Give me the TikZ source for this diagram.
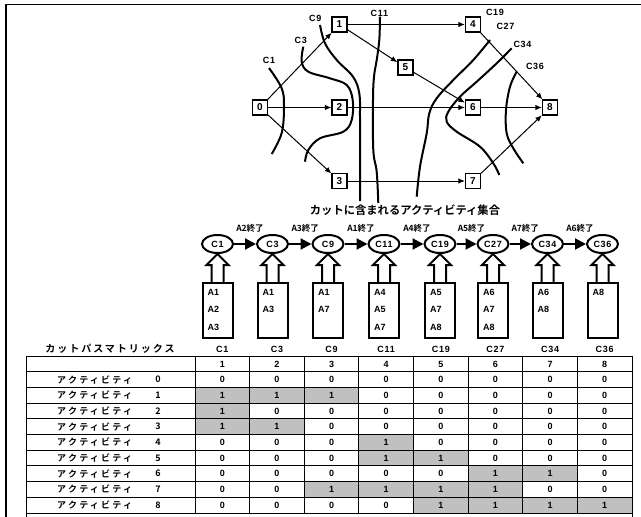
\documentclass[tikz,border=0pt]{standalone}
\usepackage{fontspec}
\newfontfamily\jpb{Noto Sans CJK JP Bold}
\newfontfamily\jpsp{Noto Sans CJK JP Bold}[LetterSpace=25]
\newfontfamily\jpsq{Noto Sans CJK JP Bold}[LetterSpace=20]
\newfontfamily\lat{Liberation Sans}
\newfontfamily\latsp{Liberation Sans}[LetterSpace=8]
\usetikzlibrary{arrows.meta,calc,shapes.geometric}
\definecolor{cellgray}{RGB}{192,192,192}
\begin{document}
\begin{tikzpicture}[x=1pt,y=-1pt,
 gnode/.style={draw,line width=1.3pt,minimum size=15pt,inner sep=0pt,font=\lat\bfseries\fontsize{10}{10}\selectfont},
 gedge/.style={line width=1pt,-{Latex[length=6.5pt,width=5.5pt]}},
 cut/.style={line width=2pt},
 cutlab/.style={inner sep=0pt,font=\latsp\bfseries\fontsize{9}{9}\selectfont},
 cnode/.style={draw,ellipse,line width=2pt,minimum width=31pt,minimum height=18pt,inner sep=0pt,font=\latsp\bfseries\fontsize{9}{9}\selectfont},
 chain/.style={line width=2pt,-{Triangle[length=11pt,width=11pt]}},
 chlab/.style={inner sep=0pt,font=\jpb\fontsize{8.5}{8.5}\selectfont},
 abox/.style={draw,line width=2pt,minimum width=30pt,minimum height=55pt,inner sep=0pt},
 boxtxt/.style={anchor=west,inner sep=0pt,font=\lat\bfseries\fontsize{9}{9}\selectfont},
 blockarr/.style={line width=2pt},
 tline/.style={line width=1pt},
 cell/.style={inner sep=0pt,font=\lat\bfseries\fontsize{9}{9}\selectfont},
 rowlab/.style={inner sep=0pt,font=\jpsp\fontsize{9}{9}\selectfont},
]
\useasboundingbox (0,0) rectangle (641,517);
% frame
\draw[line width=1.2pt] (6,517) -- (6,4.5) -- (641,4.5);

% ---- network ----
\node[gnode] (n0) at (260,107.5) {0};
\node[gnode] (n1) at (339.5,24.5) {1};
\node[gnode] (n2) at (339.5,107.5) {2};
\node[gnode] (n3) at (339.5,181) {3};
\node[gnode] (n4) at (473,24.5) {4};
\node[gnode] (n5) at (405.5,67.5) {5};
\node[gnode] (n6) at (473,107.5) {6};
\node[gnode] (n7) at (473,181) {7};
\node[gnode] (n8) at (550,107.5) {8};
\draw[gedge] (n0) -- (n1);
\draw[gedge] (n0) -- (n2);
\draw[gedge] (n0) -- (n3);
\draw[gedge] (n1) -- (n4);
\draw[gedge] (n1) -- (n5);
\draw[gedge] (n2) -- (n6);
\draw[gedge] (n3) -- (n7);
\draw[gedge] (n5) -- (n6);
\draw[gedge] (n4) -- (n8);
\draw[gedge] (n6) -- (n8);
\draw[gedge] (n7) -- (n8);

% cuts
\draw[cut] plot[smooth,tension=0.6] coordinates {(269,68) (281.7,88.3) (284,106.7) (281.7,133) (271.7,154)};
\draw[cut] plot[smooth,tension=0.6] coordinates {(303.3,46.7) (301.7,61.7) (308.3,71.7) (330,78.3) (346.7,85) (352.7,100) (351.7,120) (343.3,131.7) (320,138.3) (308.3,150) (305,161.7)};
\draw[cut] plot[smooth,tension=0.6] coordinates {(320,25) (325,43.3) (336.7,60) (353,76.7) (359.3,93.3) (360,116.7) (360,160) (360,201)};
\draw[cut] plot[smooth,tension=0.6] coordinates {(380,16.7) (379.3,40) (376.7,60) (374,76.7) (373,100) (373.3,150) (376.7,171.7) (378.3,203)};
\draw[cut] plot[smooth,tension=0.6] coordinates {(490,40) (473.3,60) (453.3,80) (436.7,98.3) (429.3,113.3) (426.7,133.3) (420,166.7) (416.7,196.7)};
\draw[cut] plot[smooth,tension=0.6] coordinates {(511.7,48.3) (496.7,63.3) (476.7,81.7) (460,96.7) (448.3,111.7) (446.7,121.7) (456.7,131.7) (480,146.7) (493.3,163.3) (499.3,175)};
\draw[cut] plot[smooth,tension=0.6] coordinates {(516.7,71.7) (510,86.7) (506,110) (506.7,133.3) (513.3,148.3) (523.3,163.3)};

\node[cutlab] (lc1) at (269,60) {C1};
\node[cutlab] (lc3) at (300.7,40) {C3};
\node[cutlab] (lc9) at (315.3,18.3) {C9};
\node[cutlab] (lc11) at (379.3,13.3) {C11};
\node[cutlab] (lc19) at (495,12.3) {C19};
\node[cutlab] (lc27) at (505.5,26.7) {C27};
\node[cutlab] (lc34) at (522.5,44.3) {C34};
\node[cutlab] (lc36) at (535,66.7) {C36};

% ---- chain ----
\node[inner sep=0pt,font=\jpb\fontsize{11.3}{11.3}\selectfont] (title) at (405,210) {カットに含まれるアクティビティ集合};

\foreach \i/\nm/\cx/\items in {1/C1/217.5/{A1,A2,A3},2/C3/272.5/{A1,A3},3/C9/328/{A1,A7},4/C11/384/{A4,A5,A7},5/C19/440/{A5,A7,A8},6/C27/493/{A6,A7,A8},7/C34/547.5/{A6,A8},8/C36/602.5/{A8}}{
  \node[cnode] (e\i) at (\cx,244) {\nm};
  \node[abox] (b\i) at (\cx,310.5) {};
  \foreach \t [count=\j] in \items {
    \node[boxtxt] (bt\i-\j) at ({\cx-10},{292+(\j-1)*17.5}) {\t};
  }
  \draw[blockarr] ($(b\i.north)+(-6,0)$) -- ($(e\i.south)+(-6,11)$) -- ($(e\i.south)+(-11,11)$) -- (e\i.south) -- ($(e\i.south)+(11,11)$) -- ($(e\i.south)+(6,11)$) -- ($(b\i.north)+(6,0)$);
}
\foreach \i/\j/\lab in {1/2/A2終了,2/3/A3終了,3/4/A1終了,4/5/A4終了,5/6/A5終了,6/7/A7終了,7/8/A6終了}{
  \draw[chain] (e\i) -- (e\j);
  \node[chlab] (cl\i) at ($(e\i)!0.5!(e\j)+(5,-16)$) {\lab};
}

% ---- table ----
\node[inner sep=0pt,font=\jpsq\fontsize{10}{10}\selectfont] (mtitle) at (110,349) {カットパスマトリックス};
\foreach \nm [count=\c] in {C1,C3,C9,C11,C19,C27,C34,C36}{
  \node[cell,font=\latsp\bfseries\fontsize{9}{9}\selectfont] (ch\c) at ({195+54.625*(\c-0.5)},349.5) {\nm};
  \node[cell] (cn\c) at ({195+54.625*(\c-0.5)},364) {\c};
}
\foreach \r/\vals in {0/{0,0,0,0,0,0,0,0},1/{1,1,1,0,0,0,0,0},2/{1,0,0,0,0,0,0,0},3/{1,1,0,0,0,0,0,0},4/{0,0,0,1,0,0,0,0},5/{0,0,0,1,1,0,0,0},6/{0,0,0,0,0,1,1,0},7/{0,0,1,1,1,1,0,0},8/{0,0,0,0,1,1,1,1}}{
  \foreach \v [count=\c] in \vals {
    \ifnum\v=1
      \fill[cellgray] ({195+54.625*(\c-1)},{371.7+15.7*\r}) rectangle ++(54.625,15.7);
    \fi
    \node[cell] (v\r-\c) at ({195+54.625*(\c-0.5)},{379.55+15.7*\r}) {\v};
  }
  \node[rowlab,anchor=west] (rl\r) at (57,{379.55+15.7*\r}) {アクティビティ};
  \node[inner sep=0pt,font=\jpb\fontsize{9}{9}\selectfont] (rn\r) at (158,{379.55+15.7*\r}) {\r};
}
\foreach \k in {0,...,10}{
  \draw[tline] (26,{356+15.7*\k}) -- (632,{356+15.7*\k});
}
\draw[tline] (26,356) -- (26,517);
\foreach \k in {0,...,7}{
  \draw[tline] ({195+54.625*\k},356) -- ({195+54.625*\k},513);
}
\draw[tline] (632,356) -- (632,517);
\end{tikzpicture}
\end{document}
